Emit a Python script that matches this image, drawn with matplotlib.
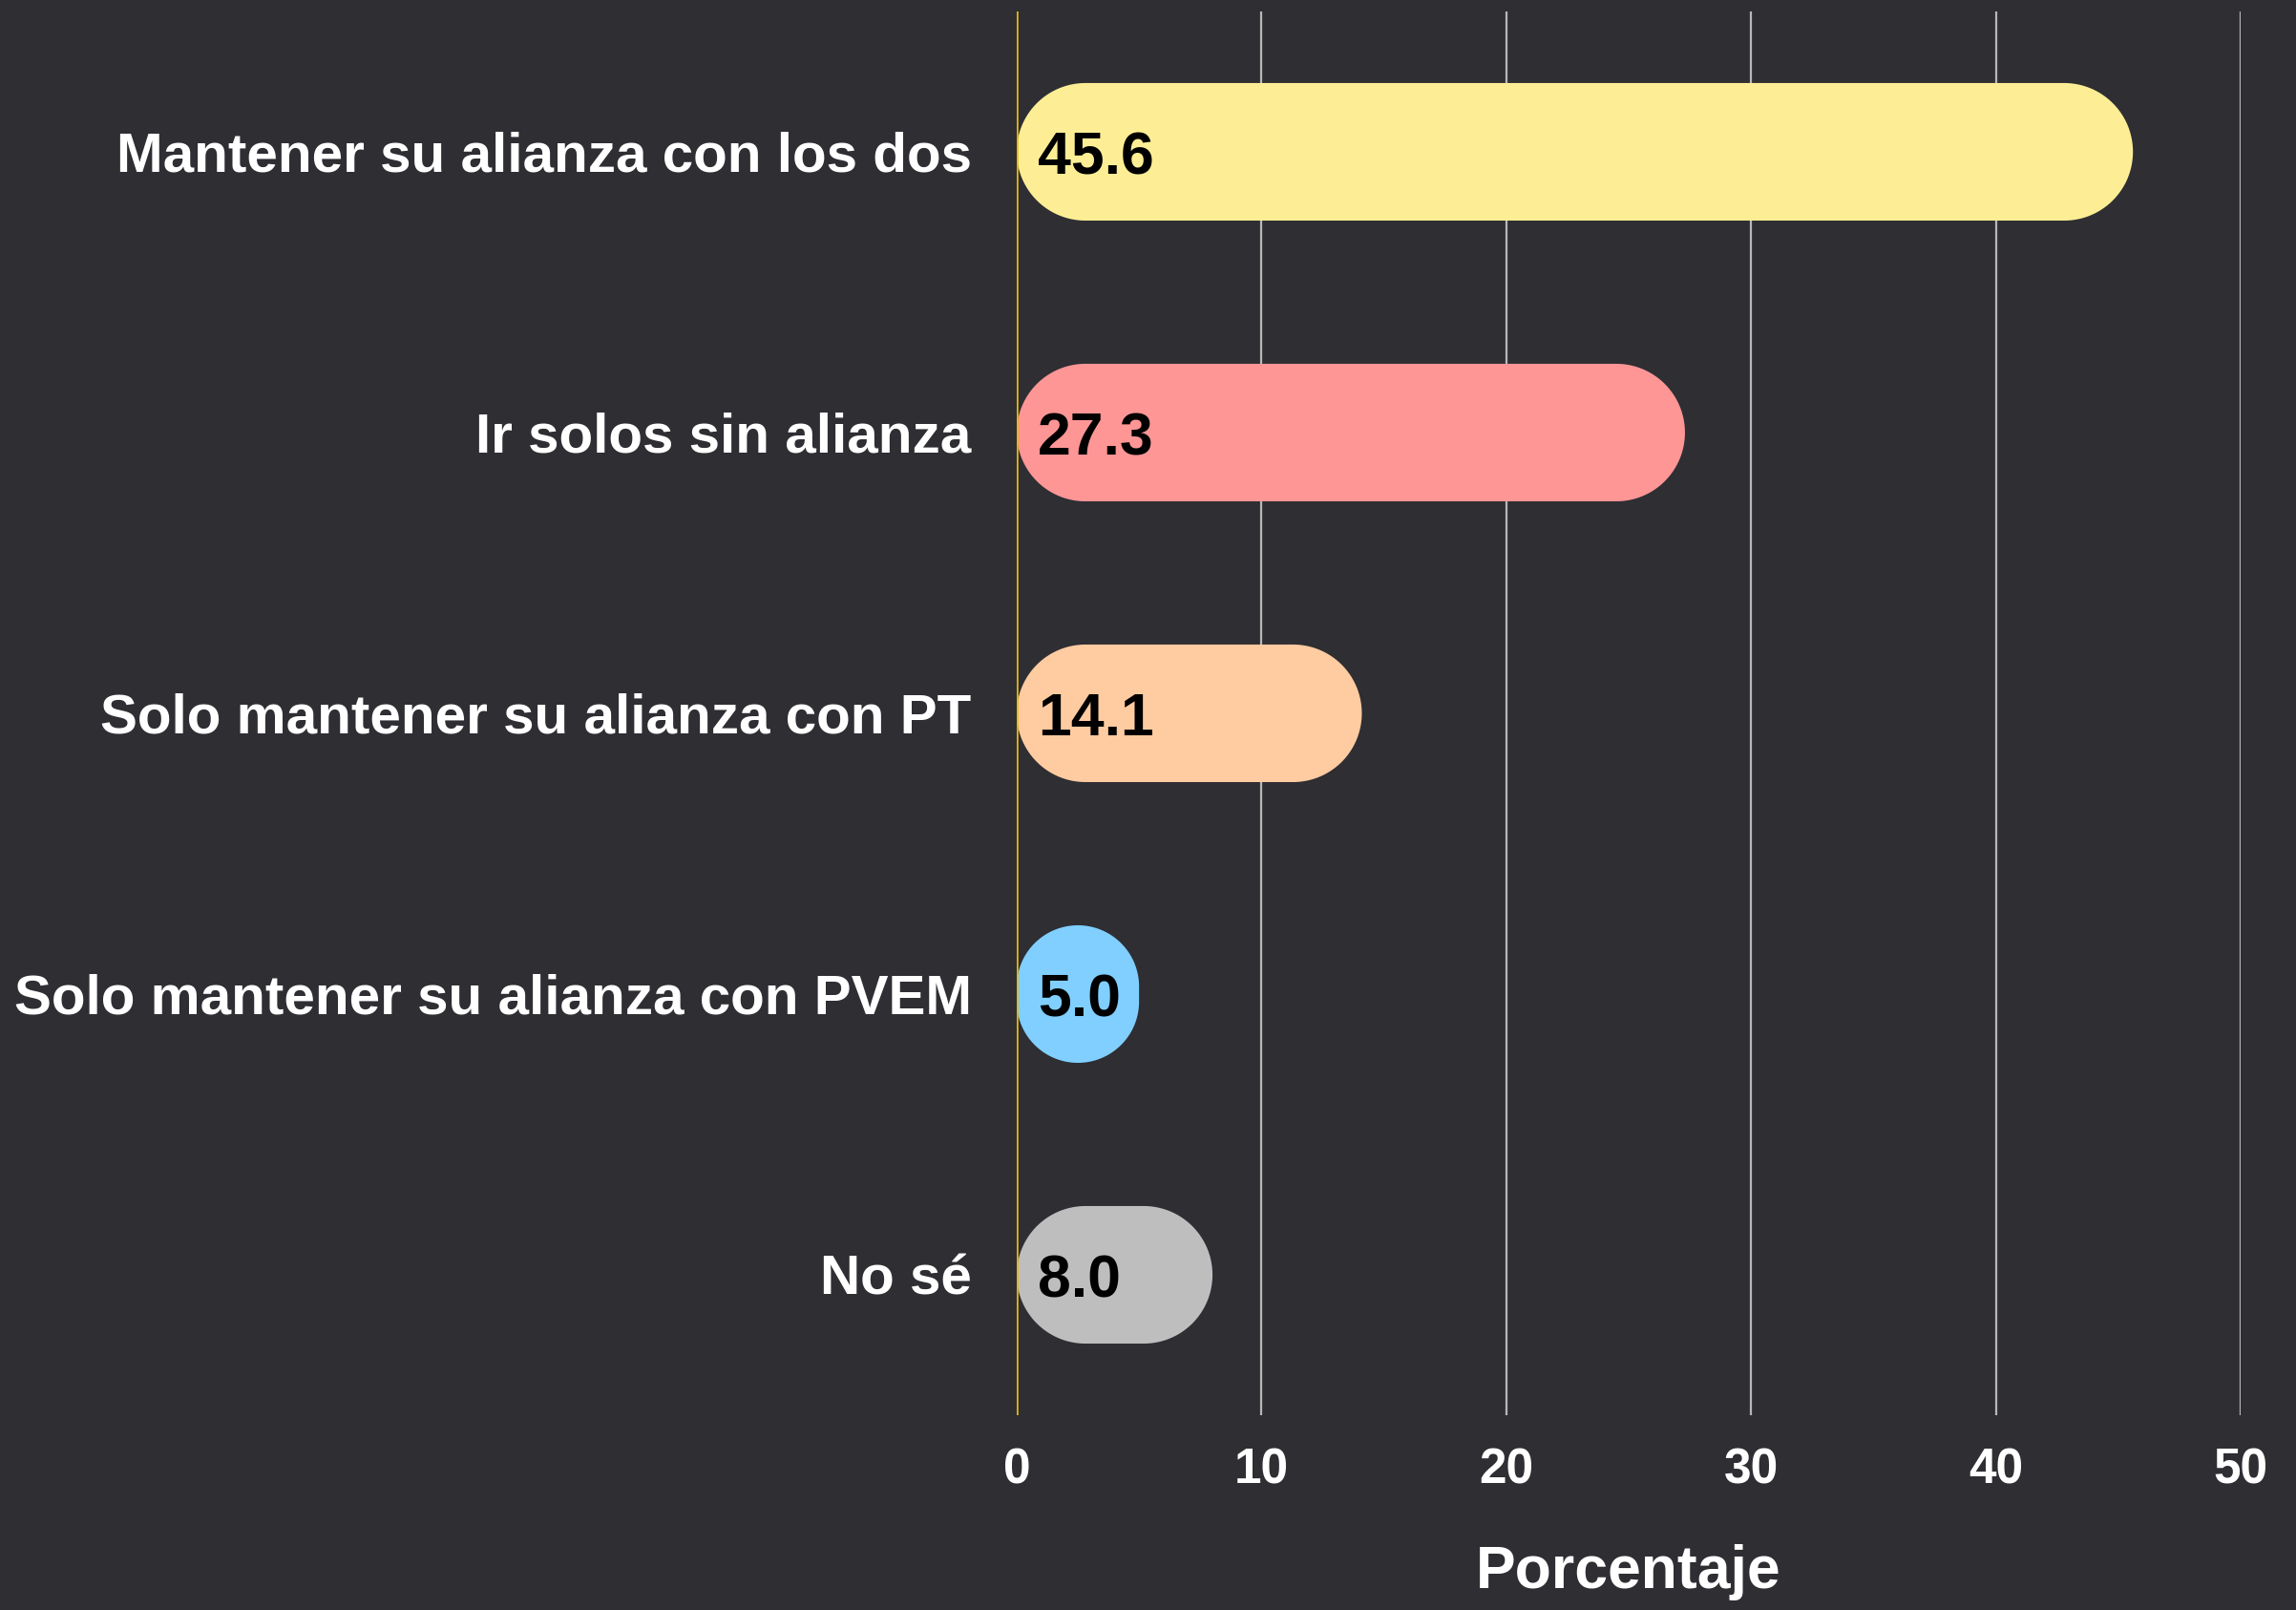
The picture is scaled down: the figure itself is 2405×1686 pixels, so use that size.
import matplotlib.pyplot as plt
import numpy as np
from matplotlib.patches import Polygon

categories = ["Mantener su alianza con los dos", "Ir solos sin alianza",
              "Solo mantener su alianza con PT", "Solo mantener su alianza con PVEM",
              "No sé"]
values = [45.6, 27.3, 14.1, 5.0, 8.0]
colors = ["#fdee95", "#ff9696", "#ffcba0", "#80cfff", "#bebebe"]
xticks = [0, 10, 20, 30, 40, 50]

bg = "#2e2e33"
plt.rcParams['font.family'] = ['Liberation Sans', 'DejaVu Sans']
plt.rcParams['font.weight'] = 'bold'

fig = plt.figure(figsize=(24.05, 16.86), dpi=100, facecolor=bg)
ax = fig.add_axes([0.4428, 0.121, 0.5331, 0.8719])
ax.set_facecolor(bg)
ax.set_xlim(0, 50)
ax.set_ylim(len(categories) - 0.5, -0.5)

# pixels per data unit, to keep the rounded ends circular
px_x = ax.bbox.width / 50
px_y = ax.bbox.height / len(categories)
bar_h = 0.49

def rounded_bar(x0, x1, yc, h):
    w_px = (x1 - x0) * px_x
    h_px = h * px_y
    r = min(w_px, h_px) / 2
    rx, ry = r / px_x, r / px_y
    hh = h / 2
    pts = []
    corners = [(x1 - rx, yc - hh + ry, -90, 0), (x1 - rx, yc + hh - ry, 0, 90),
               (x0 + rx, yc + hh - ry, 90, 180), (x0 + rx, yc - hh + ry, 180, 270)]
    for cx, cy, a0, a1 in corners:
        t = np.radians(np.linspace(a0, a1, 40))
        pts += list(zip(cx + rx * np.cos(t), cy + ry * np.sin(t)))
    return np.array(pts)

for i, (v, c) in enumerate(zip(values, colors)):
    ax.add_patch(Polygon(rounded_bar(0, v, i, bar_h), closed=True,
                         facecolor=c, edgecolor='none', zorder=2))
    ax.annotate(f"{v:.1f}", xy=(0, i), xytext=(16, -5), textcoords='offset points',
                ha='left', va='center', fontsize=45, fontweight='bold',
                color='black', zorder=4)

ax.axvline(0, color='#e8b904', lw=1.8, zorder=3)

ax.set_xticks(xticks)
ax.set_yticks(range(len(categories)), categories)
ax.grid(axis='x', color='#b8b8b8', lw=1.6, zorder=1)
ax.set_axisbelow(True)
for s in ax.spines.values():
    s.set_visible(False)
ax.tick_params(axis='y', length=0, pad=34, labelsize=42, labelcolor='white')
ax.tick_params(axis='x', length=0, pad=24, labelsize=37, labelcolor='white')
ax.set_xlabel("Porcentaje", fontsize=45, fontweight='bold', color='white', labelpad=38)

fig.savefig("out.png", dpi=100, facecolor=bg)
